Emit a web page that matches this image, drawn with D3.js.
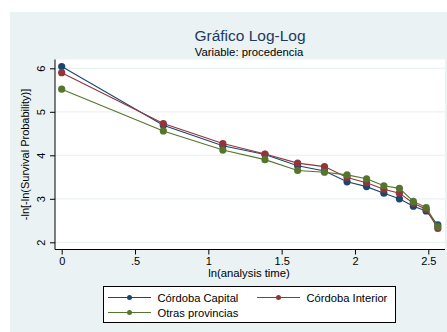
<!DOCTYPE html>
<html>
<head>
<meta charset="utf-8">
<script src="https://cdn.jsdelivr.net/npm/d3@7"></script>
<style>
body { margin:0; background:#fff; }
text { font-family:"Liberation Sans", Arial, sans-serif; }
</style>
</head>
<body>
<svg id="chart" width="447" height="332"></svg>
<script>
// ln(analysis time) for t = 1..13
var lnTime = [0, 0.693, 1.099, 1.386, 1.609, 1.792, 1.946, 2.079, 2.197, 2.303, 2.398, 2.485, 2.565];

var capital  = [6.04, 4.69, 4.22, 4.02, 3.76, 3.64, 3.39, 3.28, 3.13, 3.00, 2.83, 2.72, 2.40];
var interior = [5.90, 4.73, 4.27, 4.03, 3.82, 3.74, 3.49, 3.37, 3.22, 3.13, 2.90, 2.76, 2.32];
var otras    = [5.52, 4.56, 4.12, 3.90, 3.65, 3.61, 3.55, 3.46, 3.30, 3.24, 2.94, 2.80, 2.36];

var seriesNames = ["Córdoba Capital", "Córdoba Interior", "Otras provincias"];
var seriesColors = ["#1a476f", "#90353b", "#55752f"];

var xTicks = [0, 0.5, 1, 1.5, 2, 2.5];
var xTickLabels = ["0", ".5", "1", "1.5", "2", "2.5"];
var yTicks = [2, 3, 4, 5, 6];

var svg = d3.select("#chart");

// outer graph region
svg.append("rect")
    .attr("x",10).attr("y",12)
    .attr("width",437).attr("height",320)
    .attr("fill","#eaf2f3");

var plot = {left:55, right:445, top:59.5, bottom:249.5};

var x = d3.scaleLinear().domain([0,2.5]).range([61.7,428.3]);
var y = d3.scaleLinear().domain([2,6]).range([242.3,68.3]);

svg.append("rect")
    .attr("x",plot.left).attr("y",plot.top)
    .attr("width",plot.right-plot.left).attr("height",plot.bottom-plot.top)
    .attr("fill","#fff");

// gridlines
svg.selectAll("line.grid")
    .data(yTicks)
    .enter()
    .append("line")
    .attr("class","grid")
    .attr("x1",plot.left).attr("x2",plot.right)
    .attr("y1",function(d){ return y(d); })
    .attr("y2",function(d){ return y(d); })
    .attr("stroke","#eaf2f3")
    .attr("stroke-width",1.2);

// axes
var xAxis = d3.axisBottom(x)
    .tickValues(xTicks)
    .tickFormat(function(d,i){ return xTickLabels[i]; })
    .tickSize(5)
    .tickPadding(3);
var gx = svg.append("g")
    .attr("transform","translate(0,"+plot.bottom+")")
    .call(xAxis);
gx.select(".domain").attr("d","M"+plot.left+",0H"+plot.right);

var yAxis = d3.axisLeft(y)
    .tickValues(yTicks)
    .tickFormat(d3.format("d"))
    .tickSize(5)
    .tickPadding(3);
var gy = svg.append("g")
    .attr("transform","translate("+plot.left+",0)")
    .call(yAxis);
gy.select(".domain").attr("d","M0,"+plot.top+"V"+plot.bottom);

svg.selectAll(".domain, .tick line").attr("stroke","#000").attr("stroke-width",1);
gx.selectAll("text").attr("font-size","11px").attr("fill","#000")
    .attr("font-family","Liberation Sans, Arial, sans-serif");
// y labels rotated, like Stata
gy.selectAll(".tick text")
    .attr("font-size","11px").attr("fill","#000")
    .attr("font-family","Liberation Sans, Arial, sans-serif")
    .attr("text-anchor","middle")
    .attr("dy",null)
    .attr("transform","translate(-14,0) rotate(-90)")
    .attr("x",0).attr("y",3.8);

// series lines and markers
var allSeries = [capital, interior, otras];
var line = d3.line()
    .x(function(d){ return x(d[0]); })
    .y(function(d){ return y(d[1]); });

allSeries.forEach(function(vals,i){
    var pts = _zip(lnTime, vals);
    svg.append("path")
        .datum(pts)
        .attr("d",line)
        .attr("fill","none")
        .attr("stroke",seriesColors[i])
        .attr("stroke-width",1.1);
    svg.selectAll("circle.s"+i)
        .data(pts)
        .enter()
        .append("circle")
        .attr("class","s"+i)
        .attr("r",3.6)
        .attr("cx",function(d){ return x(d[0]); })
        .attr("cy",function(d){ return y(d[1]); })
        .attr("fill",seriesColors[i]);
});

function _zip(a,b){
    return a.map(function(d,i){ return [d,b[i]]; });
}

// titles
svg.append("text")
    .attr("x",250).attr("y",40.5)
    .attr("text-anchor","middle")
    .attr("font-size","15.5px")
    .attr("fill","#1e3a5f")
    .text("Gráfico Log-Log");
svg.append("text")
    .attr("x",249).attr("y",56)
    .attr("text-anchor","middle")
    .attr("font-size","11.3px")
    .attr("fill","#000")
    .text("Variable: procedencia");

svg.append("text")
    .attr("x",249).attr("y",276.5)
    .attr("text-anchor","middle")
    .attr("font-size","11.3px")
    .attr("fill","#000")
    .text("ln(analysis time)");

svg.append("text")
    .attr("transform","translate(29,"+((plot.top+plot.bottom)/2)+") rotate(-90)")
    .attr("text-anchor","middle")
    .attr("font-size","11px")
    .attr("fill","#000")
    .text("-ln[-ln(Survival Probability)]");

// legend
var legend = svg.append("g");
legend.append("rect")
    .attr("x",103.5).attr("y",286.5)
    .attr("width",292).attr("height",36)
    .attr("fill","#fff")
    .attr("stroke","#000")
    .attr("stroke-width",1);

var legendPos = [[108,297.5],[257,297.5],[108,312.5]];
seriesNames.forEach(function(name,i){
    var p = legendPos[i];
    legend.append("line")
        .attr("x1",p[0]).attr("x2",p[0]+43)
        .attr("y1",p[1]).attr("y2",p[1])
        .attr("stroke",seriesColors[i])
        .attr("stroke-width",1.1);
    legend.append("circle")
        .attr("cx",p[0]+21.5).attr("cy",p[1])
        .attr("r",2.5)
        .attr("fill",seriesColors[i]);
    legend.append("text")
        .attr("x",p[0]+49.5).attr("y",p[1]+4)
        .attr("font-size","11.2px")
        .attr("fill","#000")
        .text(name);
});
</script>
</body>
</html>
